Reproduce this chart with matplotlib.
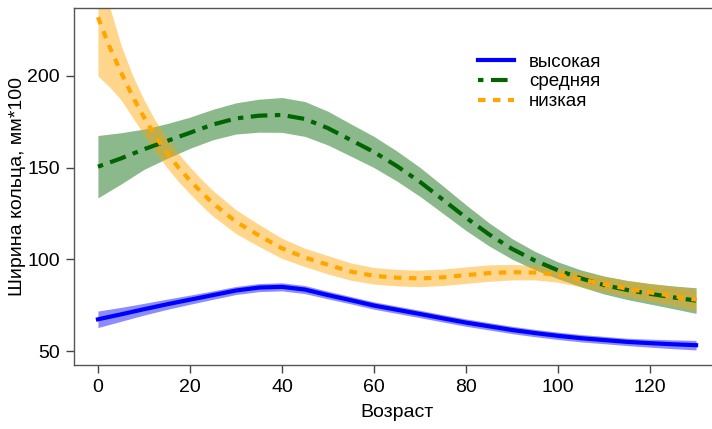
import matplotlib.pyplot as plt
import numpy as np

plt.rcParams['font.family'] = ['Liberation Sans', 'DejaVu Sans']

# возраст (лет)
age = np.arange(0, 131, 5)

# высокая
high = [67.3, 70, 72.8, 75.5, 78, 80.5, 83, 84.6, 85, 83.5, 80.5, 77.7, 74.8, 72.5,
        70.2, 67.8, 65.5, 63.5, 61.5, 59.8, 58.3, 57, 56, 55, 54.3, 53.7, 53.2]
high_se = [4.5, 3.8, 3.2, 2.8, 2.5, 2.3, 2.2, 2.2, 2.2, 2.2, 2.1, 2, 2, 2,
           2, 2, 2, 2, 2, 2, 2, 2, 2, 2, 2.2, 2.4, 2.6]

# средняя
mid = [150.5, 155, 160, 164.5, 169, 173.5, 176.8, 178.3, 178.7, 176.5, 171.5, 165,
       158.5, 150.8, 142.2, 132.5, 122.7, 113.6, 105.7, 99.3, 94, 89.6, 86, 83.3, 81.2, 79.3, 77.5]
mid_se = [17, 14, 11, 9.5, 8.5, 8.3, 8.5, 9, 9.5, 9.5, 9.2, 8.8, 8.5, 8.2,
          7.9, 7.5, 7, 6.3, 5.6, 5, 4.6, 4.6, 4.9, 5.2, 5.6, 6.2, 7]

# низкая (чаще в начале, где кривая круче)
age_low = [0, 2.5, 5, 7.5, 10, 12.5, 15, 17.5, 20, 22.5, 25, 30, 35, 40, 45, 50, 55,
           60, 65, 70, 75, 80, 85, 90, 95, 100, 105, 110, 115, 120, 125, 130]
low = [232, 216, 202, 189, 177.5, 167, 158, 150, 143, 136.5, 130.5, 120.5, 113, 106,
       101, 97, 93.3, 91, 90, 89.6, 90.2, 91.4, 92.5, 93, 92.8, 91.5, 89, 86.5, 84,
       82, 80, 78]
low_se = [32, 22, 15, 11.5, 9.5, 8.5, 8, 7.6, 7.3, 7.1, 7, 6.5, 6, 5.5, 5, 5, 4.7,
          4.5, 4.5, 4.5, 4.5, 4.5, 4.5, 4.2, 4, 4, 4, 4.2, 4.5, 4.8, 5.3, 6]

labels = ['высокая', 'средняя', 'низкая']

fig = plt.figure(figsize=(7.12, 4.29), dpi=100)
ax = fig.add_axes([74 / 712, 64 / 429, 646 / 712, 357 / 429])

high, high_se = np.array(high), np.array(high_se)
mid, mid_se = np.array(mid), np.array(mid_se)
low, low_se = np.array(low), np.array(low_se)

ax.fill_between(age, high - high_se, high + high_se, color='blue', alpha=0.45, lw=0)
ax.fill_between(age, mid - mid_se, mid + mid_se, color='darkgreen', alpha=0.45, lw=0)
ax.fill_between(age_low, low - low_se, low + low_se, color='orange', alpha=0.45, lw=0)

ax.plot(age, high, color='blue', lw=3, label=labels[0])
ax.plot(age, mid, color='darkgreen', lw=3, dashes=(1.3, 1.8, 4, 1.8), label=labels[1])
ax.plot(age_low, low, color='orange', lw=3, dashes=(1.8, 1.8), label=labels[2])

ax.set_xlim(-5.2, 135.2)
ax.set_ylim(42.4, 237)
ax.set_xticks([0, 20, 40, 60, 80, 100, 120])
ax.set_yticks([50, 100, 150, 200])
ax.tick_params(labelsize=14, length=6, width=1, color='#444444', pad=4)
for s in ax.spines.values():
    s.set_color('#555555')
    s.set_linewidth(1)

ax.set_xlabel('Возраст', fontsize=14, labelpad=6)
ax.set_ylabel('Ширина кольца, мм*100', fontsize=14, labelpad=1)

ax.legend(loc='upper left', bbox_to_anchor=(0.6, 0.92), frameon=False, fontsize=13.5,
          handlelength=1.9, handletextpad=0.8, labelspacing=0.15)

fig.savefig('out.png', dpi=100)
